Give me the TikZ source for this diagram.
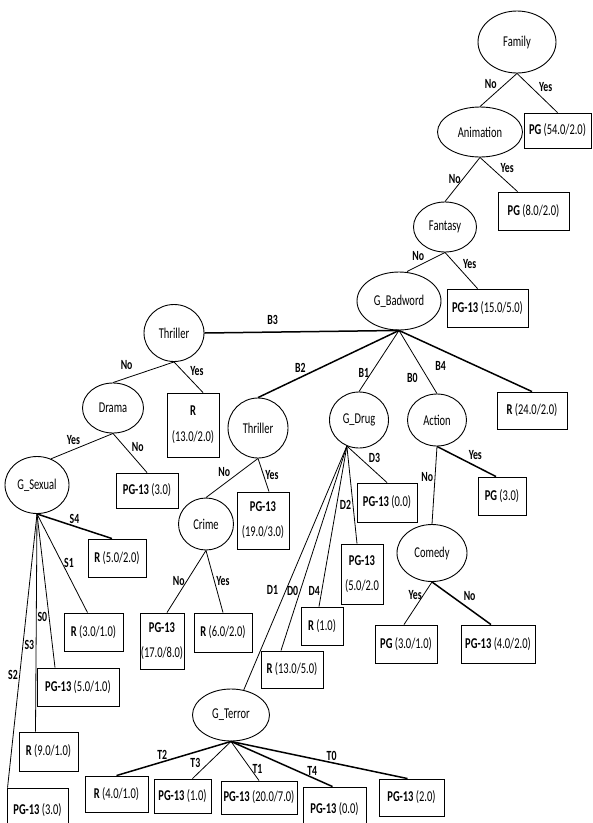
\documentclass[tikz,border=0pt]{standalone}
\usepackage{fontspec}
\setmainfont{Carlito}[FakeStretch=0.7]
\usetikzlibrary{shapes.geometric}

\tikzset{
  split/.style={shape=ellipse,draw=black,inner sep=0pt,line width=0.9pt},
  leaf/.style={shape=rectangle,draw=black,inner sep=0pt,line width=0.9pt,align=center},
  lbl/.style={font=\fontsize{14}{16}\selectfont\bfseries,inner sep=1.5pt},
  heavy/.style={line width=1.5pt},
  every edge/.style={draw,line width=0.8pt},
}

\begin{document}
\begin{tikzpicture}[x=1pt,y=-1pt,every node/.append style={font=\fontsize{15}{17}\selectfont}]
\useasboundingbox[fill=white] (0,0) rectangle (593,823);

% tests
\node[split,minimum width=78pt,minimum height=62pt] (fam) at (517,42) {Family};
\node[split,minimum width=85pt,minimum height=50pt] (anim) at (480,132) {Animation};
\node[split,minimum width=63pt,minimum height=50pt] (fant) at (445,227) {Fantasy};
\node[split,minimum width=84pt,minimum height=58pt] (bad) at (399,301) {G\_Badword};
\node[split,minimum width=60pt,minimum height=57pt] (thr1) at (174,333) {Thriller};
\node[split,minimum width=61pt,minimum height=50pt] (drama) at (113,408) {Drama};
\node[split,minimum width=64pt,minimum height=57pt] (gsex) at (37,485) {G\_Sexual};
\node[split,minimum width=60pt,minimum height=60pt] (thr2) at (258,428) {Thriller};
\node[split,minimum width=55pt,minimum height=52pt] (crime) at (206,524) {Crime};
\node[split,minimum width=59pt,minimum height=56pt] (drug) at (359,420) {G\_Drug};
\node[split,minimum width=59pt,minimum height=52pt] (action) at (437,420) {Action};
\node[split,minimum width=70pt,minimum height=57pt] (comedy) at (432,553) {Comedy};
\node[split,minimum width=77pt,minimum height=52pt] (terror) at (231,715) {G\_Terror};

% leaves
\node[leaf,minimum width=67pt,minimum height=35pt] (pg54) at (557.5,130.5) {\textbf{PG} (54.0/2.0)};
\node[leaf,minimum width=71pt,minimum height=38pt] (pg8) at (533.5,211) {\textbf{PG} (8.0/2.0)};
\node[leaf,minimum width=81pt,minimum height=38pt] (pg15) at (487.5,308) {\textbf{PG-13} (15.0/5.0)};
\node[leaf,minimum width=70pt,minimum height=37pt] (r24) at (532,410.5) {\textbf{R} (24.0/2.0)};
\node[leaf,minimum width=52pt,minimum height=64pt] (r13) at (193,425) {\textbf{R}\\[9pt](13.0/2.0)};
\node[leaf,minimum width=62pt,minimum height=35pt] (pg3d) at (147,490.5) {\textbf{PG-13} (3.0)};
\node[leaf,minimum width=58pt,minimum height=38pt] (r5) at (117,558) {\textbf{R} (5.0/2.0)};
\node[leaf,minimum width=59pt,minimum height=38pt] (r3) at (93.5,632) {\textbf{R} (3.0/1.0)};
\node[leaf,minimum width=82pt,minimum height=38pt] (pg5s) at (78,687) {\textbf{PG-13} (5.0/1.0)};
\node[leaf,minimum width=59pt,minimum height=39pt] (r9) at (48.5,751.5) {\textbf{R} (9.0/1.0)};
\node[leaf,minimum width=61pt,minimum height=44pt] (pg3s) at (37.5,810) {\textbf{PG-13} (3.0)};
\node[leaf,minimum width=52pt,minimum height=57pt] (pg19) at (263,520.5) {\textbf{PG-13}\\[8pt](19.0/3.0)};
\node[leaf,minimum width=44pt,minimum height=56pt] (pg17) at (162,641) {\textbf{PG-13}\\[8pt](17.0/8.0)};
\node[leaf,minimum width=58pt,minimum height=39pt] (r6) at (223,632.5) {\textbf{R} (6.0/2.0)};
\node[leaf,minimum width=60pt,minimum height=39pt] (pg0a) at (387,502.5) {\textbf{PG-13} (0.0)};
\node[leaf,minimum width=42pt,minimum height=60pt] (pg52) at (362,574) {\textbf{PG-13}\\[8pt](5.0/2.0};
\node[leaf,minimum width=42pt,minimum height=38pt] (r1) at (322,626) {\textbf{R} (1.0)};
\node[leaf,minimum width=62pt,minimum height=37pt] (r135) at (292,669.5) {\textbf{R} (13.0/5.0)};
\node[leaf,minimum width=48pt,minimum height=38pt] (pg3b) at (502,496) {\textbf{PG} (3.0)};
\node[leaf,minimum width=62pt,minimum height=38pt] (pg31) at (406,644) {\textbf{PG} (3.0/1.0)};
\node[leaf,minimum width=74pt,minimum height=38pt] (pg42) at (498,644) {\textbf{PG-13} (4.0/2.0)};
\node[leaf,minimum width=63pt,minimum height=36pt] (r4) at (116.5,794) {\textbf{R} (4.0/1.0)};
\node[leaf,minimum width=57pt,minimum height=34pt] (pg1b) at (182.5,796) {\textbf{PG-13} (1.0)};
\node[leaf,minimum width=76pt,minimum height=33pt] (pg20) at (259,797.5) {\textbf{PG-13} (20.0/7.0)};
\node[leaf,minimum width=63pt,minimum height=44pt] (pg0b) at (334.5,809) {\textbf{PG-13} (0.0)};
\node[leaf,minimum width=65pt,minimum height=37pt] (pg2b) at (411.5,797.5) {\textbf{PG-13} (2.0)};

% branches
\path (fam.south) edge node[lbl,above left] {No} (anim.north);
\path (fam.south) edge node[lbl,above right] {Yes} (pg54.north);
\path (anim.south) edge node[lbl,left] {No} (fant.north);
\path (anim.south) edge node[lbl,above right] {Yes} ([xshift=-16pt]pg8.north);
\path (fant.south) edge node[lbl,above left] {No} ([xshift=8pt]bad.north);
\path (fant.south) edge node[lbl,above right] {Yes} ([xshift=-10pt]pg15.north);

\path (bad.south) edge[heavy] node[lbl,pos=0.65,above=5pt] {B3} (thr1.east);
\path (bad.south) edge[heavy] node[lbl,pos=0.7,above=3pt] {B2} (thr2.north);
\path (bad.south) edge node[lbl,pos=0.7,left] {B1} (drug.north);
\path (bad.south) edge node[lbl,pos=0.75,left=8pt] {B0} (action.north);
\path (bad.south) edge[heavy] node[lbl,pos=0.4,below left=4pt] {B4} (r24.north);

\path (thr1.south) edge node[lbl,pos=0.6,above left=3pt] {No} (drama.north);
\path (thr1.south) edge node[lbl,above right] {Yes} ([xshift=10pt]r13.north);
\path (drama.south) edge node[lbl,above left] {Yes} (gsex.62);
\path (drama.south) edge node[lbl,above right] {No} (pg3d.north);

\path (gsex.south) edge[heavy] node[lbl,above] {S4} ([xshift=-5pt]r5.north);
\path (gsex.south) edge node[lbl,right] {S1} ([xshift=-6pt]r3.north);
\path (gsex.south) edge node[lbl,pos=0.67,left] {S0} ([xshift=-23pt]pg5s.north);
\path (gsex.south) edge node[lbl,pos=0.6,left] {S3} ([xshift=-13pt]r9.north);
\path (gsex.south) edge node[lbl,pos=0.59,left] {S2} ([xshift=1pt]pg3s.north west);

\path (thr2.south) edge node[lbl,above left] {No} (crime.north);
\path (thr2.south) edge node[lbl,right] {Yes} ([xshift=6pt]pg19.north);
\path (crime.south) edge node[lbl,left] {No} ([xshift=5pt]pg17.north);
\path (crime.south) edge node[lbl,right] {Yes} (r6.north);

\path (drug.245) edge node[lbl,above right] {D3} (pg0a.north);
\path (drug.245) edge node[lbl,pos=0.6,left] {D2} ([xshift=-5pt]pg52.north);
\path (drug.245) edge node[lbl,pos=0.9,left] {D4} ([xshift=-3pt]r1.north);
\path (drug.245) edge node[lbl,pos=0.71,left] {D0} ([xshift=-11pt]r135.north);
\path (drug.245) edge node[lbl,pos=0.59,left=6pt] {D1} (terror.63);

\path (action.south) edge[heavy] node[lbl,above right] {Yes} ([xshift=-6pt]pg3b.north);
\path (action.south) edge node[lbl,pos=0.4,left] {No} (comedy.north);
\path (comedy.south) edge node[lbl,pos=0.3,left] {Yes} ([xshift=-2pt]pg31.north);
\path (comedy.south) edge[heavy] node[lbl,above right] {No} ([xshift=-7pt]pg42.north);

\path (terror.south) edge[heavy] node[lbl,pos=0.6,above] {T2} (r4.north);
\path (terror.south) edge node[lbl,pos=0.75,above left] {T3} ([xshift=10pt]pg1b.north);
\path (terror.south) edge node[lbl,pos=0.7,right] {T1} (pg20.north);
\path (terror.south) edge[heavy] node[lbl,pos=0.8,above] {T4} ([xshift=-2pt]pg0b.north);
\path (terror.south) edge[heavy] node[lbl,pos=0.57,above] {T0} ([xshift=-4pt]pg2b.north);

\end{tikzpicture}
\end{document}
